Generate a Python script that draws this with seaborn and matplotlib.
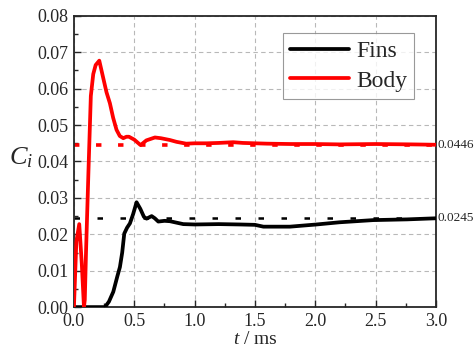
import numpy as np
import pandas as pd
import matplotlib
matplotlib.use("Agg")
import matplotlib.pyplot as plt
import seaborn as sns
from matplotlib.ticker import MultipleLocator

# ---- data ----
body_t = [0.0, 0.02, 0.044, 0.065, 0.083, 0.09, 0.10, 0.12, 0.14, 0.16, 0.18, 0.21, 0.243,
          0.27, 0.298, 0.325, 0.353, 0.38, 0.409, 0.435, 0.456, 0.50, 0.552, 0.60, 0.671,
          0.72, 0.795, 0.85, 0.93, 1.0, 1.1, 1.2, 1.32, 1.4, 1.5, 1.6, 1.8, 2.0, 2.2,
          2.5, 2.8, 3.0]
body_v = [0.0, 0.018, 0.0228, 0.012, 0.0, 0.002, 0.015, 0.037, 0.058, 0.064, 0.0665, 0.0677,
          0.0629, 0.059, 0.056, 0.052, 0.0487, 0.047, 0.0464, 0.0468, 0.0468, 0.046, 0.0445,
          0.0458, 0.0466, 0.0464, 0.0459, 0.0454, 0.0449, 0.045, 0.045, 0.0451, 0.0453,
          0.0451, 0.045, 0.0449, 0.0448, 0.0448, 0.0447, 0.0448, 0.0447, 0.0446]

fins_t = [0.0, 0.257, 0.29, 0.326, 0.36, 0.381, 0.40, 0.417, 0.44, 0.464, 0.49, 0.519,
          0.55, 0.58, 0.602, 0.644, 0.67, 0.699, 0.75, 0.795, 0.85, 0.906, 1.0, 1.2,
          1.375, 1.5, 1.57, 1.79, 2.01, 2.2, 2.48, 2.76, 3.0]
fins_v = [0.0, 0.0, 0.0015, 0.0042, 0.0085, 0.011, 0.015, 0.0202, 0.0218, 0.023, 0.0255,
          0.0288, 0.027, 0.0248, 0.0243, 0.025, 0.0244, 0.0235, 0.0237, 0.0236, 0.0232,
          0.0228, 0.0227, 0.0228, 0.0227, 0.0226, 0.0221, 0.0221, 0.0227, 0.0233, 0.0239,
          0.0241, 0.0244]

fins_ref = 0.0245
body_ref = 0.0446
ref_labels = ["0.0245", "0.0446"]

# ---- style ----
sns.set_style("ticks")
plt.rcParams["font.family"] = ["Liberation Serif", "DejaVu Serif"]
plt.rcParams["mathtext.fontset"] = "custom"
plt.rcParams["mathtext.it"] = "Liberation Serif:italic"
plt.rcParams["mathtext.rm"] = "Liberation Serif"

fig = plt.figure(figsize=(4.77, 3.53), dpi=100)
ax = fig.add_axes([0.155, 0.130, 0.759, 0.825])

df = pd.concat([
    pd.DataFrame({"t": fins_t, "C": fins_v, "series": "Fins"}),
    pd.DataFrame({"t": body_t, "C": body_v, "series": "Body"}),
])

sns.lineplot(data=df, x="t", y="C", hue="series", palette={"Fins": "black", "Body": "#ff0000"},
             linewidth=2.7, ax=ax, estimator=None, sort=False, zorder=3)

# reference lines
ax.plot([0, 3], [fins_ref, fins_ref], color="black", lw=1.8, ls=(0, (2.2, 7.0)), zorder=2)
ax.plot([0, 3], [body_ref, body_ref], color="#ff0000", lw=2.6, ls=(0, (1.5, 4.6)), zorder=2)
ax.text(3.01, fins_ref, ref_labels[0], fontsize=9.5, va="center", ha="left",
        transform=ax.transData, clip_on=False)
ax.text(3.01, body_ref, ref_labels[1], fontsize=9.5, va="center", ha="left",
        transform=ax.transData, clip_on=False)

ax.set_xlim(0, 3.0)
ax.set_ylim(0, 0.08)
ax.xaxis.set_major_locator(MultipleLocator(0.5))
ax.xaxis.set_minor_locator(MultipleLocator(0.25))
ax.yaxis.set_major_locator(MultipleLocator(0.01))
ax.yaxis.set_minor_locator(MultipleLocator(0.005))
ax.xaxis.set_major_formatter(matplotlib.ticker.FormatStrFormatter("%.1f"))
ax.yaxis.set_major_formatter(matplotlib.ticker.FormatStrFormatter("%.2f"))
ax.tick_params(which="major", direction="in", length=5, width=1, labelsize=13, pad=4)
ax.tick_params(which="minor", direction="in", length=3, width=1)
ax.grid(True, which="major", color="#b8b8b8", ls=(0, (4, 3)), lw=0.8)
for s in ax.spines.values():
    s.set_linewidth(1.3)
    s.set_visible(True)

ax.set_xlabel("$t$ / ms", fontsize=14, labelpad=1)
ax.set_ylabel("$C_i$", fontsize=19, rotation=0, labelpad=0)
ax.yaxis.set_label_coords(-0.145, 0.47)

leg = ax.legend(title=None, loc="upper right", bbox_to_anchor=(0.94, 0.94), fontsize=17,
                frameon=True, fancybox=False, edgecolor="#808080", handlelength=2.5,
                borderpad=0.3, labelspacing=0.35, handletextpad=0.3, borderaxespad=0)
leg.get_frame().set_linewidth(0.8)
for line in leg.get_lines():
    line.set_linewidth(2.7)

fig.savefig("out.png", dpi=100)
